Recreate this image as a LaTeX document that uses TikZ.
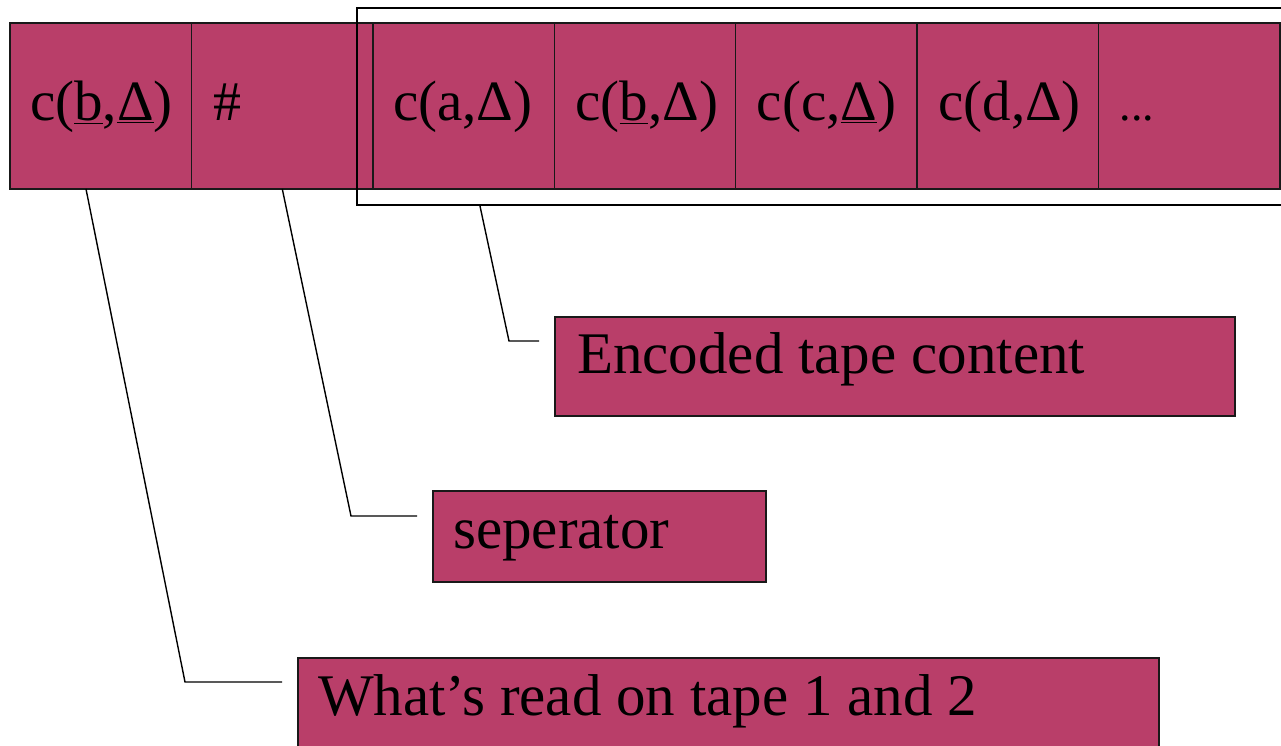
\documentclass[tikz,border=0pt]{standalone}
\usepackage{fontspec}
\setmainfont{Liberation Serif}
\usetikzlibrary{calc}
\definecolor{tapefill}{RGB}{185,62,105}
\definecolor{edge}{RGB}{25,25,25}
\newcommand{\celltxtfont}{\fontsize{57}{62}\selectfont}
\newcommand{\boxtxtfont}{\fontsize{59}{64}\selectfont}
\newcommand{\hashtxt}{\fontsize{56}{60}\selectfont}
\newcommand{\dotstxt}{\fontsize{46}{50}\selectfont}
\begin{document}
\begin{tikzpicture}[x=1pt,y=-1pt,
  cell/.style={draw=edge, line width=1.4pt, fill=tapefill, minimum width=181.4pt,
    minimum height=166pt, anchor=north west, inner sep=0pt, outer sep=0pt},
  callout/.style={draw=edge, line width=1.4pt, fill=tapefill, anchor=north west,
    inner sep=0pt, outer sep=0pt},
  celltext/.style={anchor=base west, inner sep=0pt, font=\celltxtfont},
  boxtext/.style={anchor=base west, inner sep=0pt, font=\boxtxtfont},
  lead/.style={draw=black, line width=1.4pt},
  frame/.style={draw=black, line width=1.7pt}]
\useasboundingbox (0,0) rectangle (1281,746);

% tape cells
\node[cell] (c1) at (10,23) {};
\node[cell] (c2) at (191.4,23) {};
\node[cell] (c3) at (372.8,23) {};
\node[cell] (c4) at (554.2,23) {};
\node[cell] (c5) at (735.6,23) {};
\node[cell] (c6) at (917,23) {};
\node[cell] (c7) at (1098.4,23) {};

% cell contents
\node[celltext] (t1) at ([xshift=20pt,yshift=-15pt]c1.west) {c(\underline{b},\underline{Δ})};
\node[celltext, font=\hashtxt] (t2) at ([xshift=22pt,yshift=-15pt]c2.west) {\#};
\node[celltext] (t3) at ([xshift=20pt,yshift=-15pt]c3.west) {c(a,Δ)};
\node[celltext] (t4) at ([xshift=21pt,yshift=-15pt]c4.west) {c(\underline{b},Δ)};
\node[celltext] (t5) at ([xshift=21pt,yshift=-15pt]c5.west) {c(c,\underline{Δ})};
\node[celltext] (t6) at ([xshift=21pt,yshift=-15pt]c6.west) {c(d,Δ)};
\node[celltext, font=\dotstxt] (t7) at ([xshift=21pt,yshift=-15pt]c7.west) {...};

% frame around the encoded tape
\node[frame, anchor=north west, minimum width=940pt, minimum height=197pt,
  inner sep=0pt, outer sep=0pt] (enc) at (357,8) {};

% callout boxes
\node[callout, minimum width=680pt, minimum height=99pt] (bEnc) at (555,317) {};
\node[boxtext] (lEnc) at ([xshift=22pt,yshift=-56pt]bEnc.north west) {Encoded tape content};

\node[callout, minimum width=333pt, minimum height=91pt] (bSep) at (433,491) {};
\node[boxtext] (lSep) at ([xshift=20pt,yshift=-57pt]bSep.north west) {seperator};

\node[callout, minimum width=861pt, minimum height=100pt] (bRead) at (298,658) {};
\node[boxtext] (lRead) at ([xshift=20pt,yshift=-57pt]bRead.north west) {What’s read on tape 1 and 2};

% leader lines
\coordinate (eRead) at ([xshift=-16pt,yshift=-24pt]bRead.north west);
\coordinate (eSep)  at ([xshift=-16pt,yshift=-25pt]bSep.north west);
\coordinate (eEnc)  at ([xshift=-16pt,yshift=-24pt]bEnc.north west);

\draw[lead] ($(c1.south west)!0.419!(c1.south east)$) -- (185,682) -- (eRead);
\draw[lead] ($(c2.south west)!0.501!(c2.south east)$) -- (351,516) -- (eSep);
\draw[lead] ($(enc.south west)!0.1306!(enc.south east)$) -- (509,341) -- (eEnc);
\end{tikzpicture}
\end{document}
